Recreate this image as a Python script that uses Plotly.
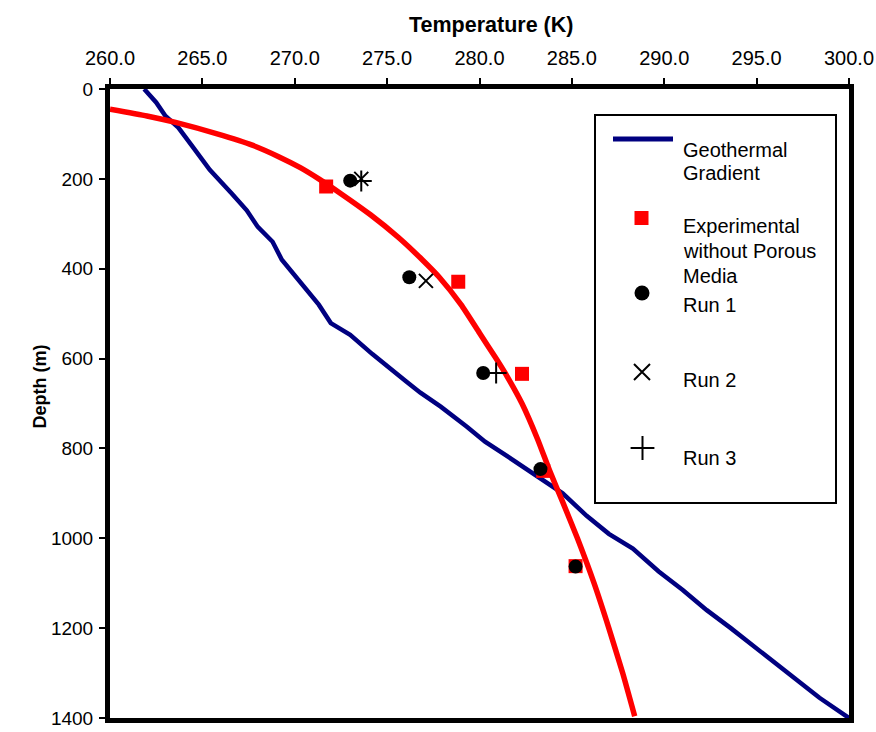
import plotly.graph_objects as go

# ---------------- data ----------------
geo_T = [261.85, 262.5, 263.0, 263.7, 264.5, 265.4, 266.6, 267.4, 268.0, 268.8, 269.3,
         270.3, 271.3, 271.95, 273.0, 274.2, 275.2, 276.0, 276.8, 277.9, 279.3, 280.3,
         281.6, 282.8, 284.5, 285.8, 287.0, 288.3, 289.7, 291.0, 292.3, 293.6, 295.0,
         296.4, 297.4, 298.4, 300.0]
geo_D = [0, 30, 60, 86, 130, 180, 233, 270, 307, 340, 380,
         430, 480, 521, 547, 590, 625, 650, 676, 707, 751, 785,
         820, 853, 900, 950, 990, 1023, 1074, 1115, 1160, 1200, 1245,
         1290, 1320, 1355, 1400]

fit_T = [260.0, 262.0, 263.6, 265.8, 267.7, 269.1, 270.3, 271.3, 272.5, 274.1, 275.6,
         276.9, 277.8, 279.0, 280.0, 280.9, 281.5, 282.3, 283.15, 283.8, 284.5, 285.3,
         286.2, 287.0, 287.75, 288.4]
fit_D = [45, 60, 75, 100, 125, 150, 175, 200, 233, 280, 330,
         380, 418, 480, 543, 600, 640, 700, 780, 850, 919, 1000,
         1100, 1200, 1300, 1396]

exp_T = [271.7, 278.85, 282.3, 283.45, 285.2]
exp_D = [217, 429, 634, 850, 1062]
run1_T = [273.0, 276.2, 280.2, 283.3, 285.2]
run1_D = [204, 419, 632, 846, 1063]
run2_T = [273.6, 277.1]
run2_D = [200, 427]
run3_T = [273.6, 280.9]
run3_D = [205, 632]

x_ticks = [260, 265, 270, 275, 280, 285, 290, 295, 300]
y_ticks = [0, 200, 400, 600, 800, 1000, 1200, 1400]

legend_geo = ["Geothermal", "Gradient"]
legend_exp = ["Experimental", "without Porous", "Media"]
legend_run1 = ["Run 1"]
legend_run2 = ["Run 2"]
legend_run3 = ["Run 3"]

# ---------------- layout geometry (pixels) ----------------
W, H = 876, 732
L, R, T, B = 110, 27, 89, 14
PW, PH = W - L - R, H - T - B

def px(x):
    return (x - L) / PW

def py(y):
    return (H - B - y) / PH

FONT = "Liberation Sans, Arial, sans-serif"
NAVY = "#000080"
RED = "#FF0000"

fig = go.Figure()

fig.add_trace(go.Scatter(x=geo_T, y=geo_D, mode="lines",
                         line=dict(color=NAVY, width=4.5), showlegend=False))
fig.add_trace(go.Scatter(x=fit_T, y=fit_D, mode="lines",
                         line=dict(color=RED, width=5.5, shape="spline", smoothing=0.5),
                         showlegend=False))
fig.add_trace(go.Scatter(x=exp_T, y=exp_D, mode="markers",
                         marker=dict(symbol="square", size=14, color=RED,
                                     line=dict(width=0)), showlegend=False))
fig.add_trace(go.Scatter(x=run1_T, y=run1_D, mode="markers",
                         marker=dict(symbol="circle", size=14, color="black",
                                     line=dict(width=0)), showlegend=False))
fig.add_trace(go.Scatter(x=run2_T, y=run2_D, mode="markers",
                         marker=dict(symbol="x-thin-open", size=14, color="black",
                                     line=dict(width=2, color="black")), showlegend=False))
fig.add_trace(go.Scatter(x=run3_T, y=run3_D, mode="markers",
                         marker=dict(symbol="cross-thin-open", size=15, color="black",
                                     line=dict(width=2, color="black")), showlegend=False))

# ---------------- legend (drawn manually on an overlay axis) ----------------
fig.add_shape(type="rect", xref="paper", yref="paper",
              x0=px(595), x1=px(836), y0=py(115), y1=py(503),
              line=dict(color="black", width=2), fillcolor="white", layer="below")

fig.add_trace(go.Scatter(x=[px(613), px(673)], y=[py(139), py(139)], mode="lines",
                         line=dict(color=NAVY, width=5), xaxis="x2", yaxis="y2",
                         showlegend=False, hoverinfo="skip"))
fig.add_trace(go.Scatter(x=[px(641.5)], y=[py(218)], mode="markers",
                         marker=dict(symbol="square", size=14, color=RED),
                         xaxis="x2", yaxis="y2", showlegend=False, hoverinfo="skip"))
fig.add_trace(go.Scatter(x=[px(642)], y=[py(293)], mode="markers",
                         marker=dict(symbol="circle", size=15, color="black"),
                         xaxis="x2", yaxis="y2", showlegend=False, hoverinfo="skip"))
fig.add_trace(go.Scatter(x=[px(642)], y=[py(372)], mode="markers",
                         marker=dict(symbol="x-thin-open", size=16, color="black",
                                     line=dict(width=2, color="black")),
                         xaxis="x2", yaxis="y2", showlegend=False, hoverinfo="skip"))
fig.add_trace(go.Scatter(x=[px(642.5)], y=[py(448)], mode="markers",
                         marker=dict(symbol="cross-thin-open", size=17, color="black",
                                     line=dict(width=2, color="black")),
                         xaxis="x2", yaxis="y2", showlegend=False, hoverinfo="skip"))

legend_lines = list(zip(legend_geo + legend_exp + legend_run1 + legend_run2 + legend_run3,
                        [149.5, 173, 226, 251, 275.5, 304.5, 380.3, 457.5]))
for txt, yc in legend_lines:
    fig.add_annotation(text=txt, xref="paper", yref="paper", x=px(681), y=py(yc),
                       xanchor="left", yanchor="middle", showarrow=False,
                       font=dict(family=FONT, size=20, color="black"))

# axis titles
fig.add_annotation(text="<b>Temperature (K)</b>", xref="paper", yref="paper",
                   x=px(490.5), y=py(25), xanchor="center", yanchor="middle",
                   showarrow=False,
                   font=dict(family="Liberation Sans Narrow, Arial Narrow, Liberation Sans, Arial",
                             size=21.5, color="black"))
fig.add_annotation(text="<b>Depth (m)</b>", xref="paper", yref="paper",
                   x=px(39), y=py(386.5), xanchor="center", yanchor="middle",
                   textangle=-90, showarrow=False,
                   font=dict(family=FONT, size=18, color="black"))

fig.update_layout(
    width=W, height=H,
    margin=dict(l=L, r=R, t=T, b=B, pad=0, autoexpand=False),
    paper_bgcolor="white", plot_bgcolor="white",
    showlegend=False,
    xaxis=dict(range=[260, 300], side="top", tickvals=x_ticks, tickformat=".1f",
               automargin=False, ticklabelstandoff=5,
               showgrid=False, zeroline=False, showline=True, linecolor="black",
               linewidth=5, mirror=True, ticks="outside", ticklen=6, tickwidth=2,
               tickcolor="black", tickfont=dict(family=FONT, size=20, color="black")),
    yaxis=dict(range=[1400, 0], tickvals=y_ticks, tickformat="d",
               automargin=False, ticklabelstandoff=2,
               showgrid=False, zeroline=False, showline=True, linecolor="black",
               linewidth=5, mirror=True, ticks="outside", ticklen=6, tickwidth=2,
               tickcolor="black", tickfont=dict(family=FONT, size=19, color="black")),
    xaxis2=dict(range=[0, 1], overlaying="x", visible=False, fixedrange=True,
                automargin=False),
    yaxis2=dict(range=[0, 1], overlaying="y", visible=False, fixedrange=True,
                automargin=False),
)

fig.write_html("out.html")
